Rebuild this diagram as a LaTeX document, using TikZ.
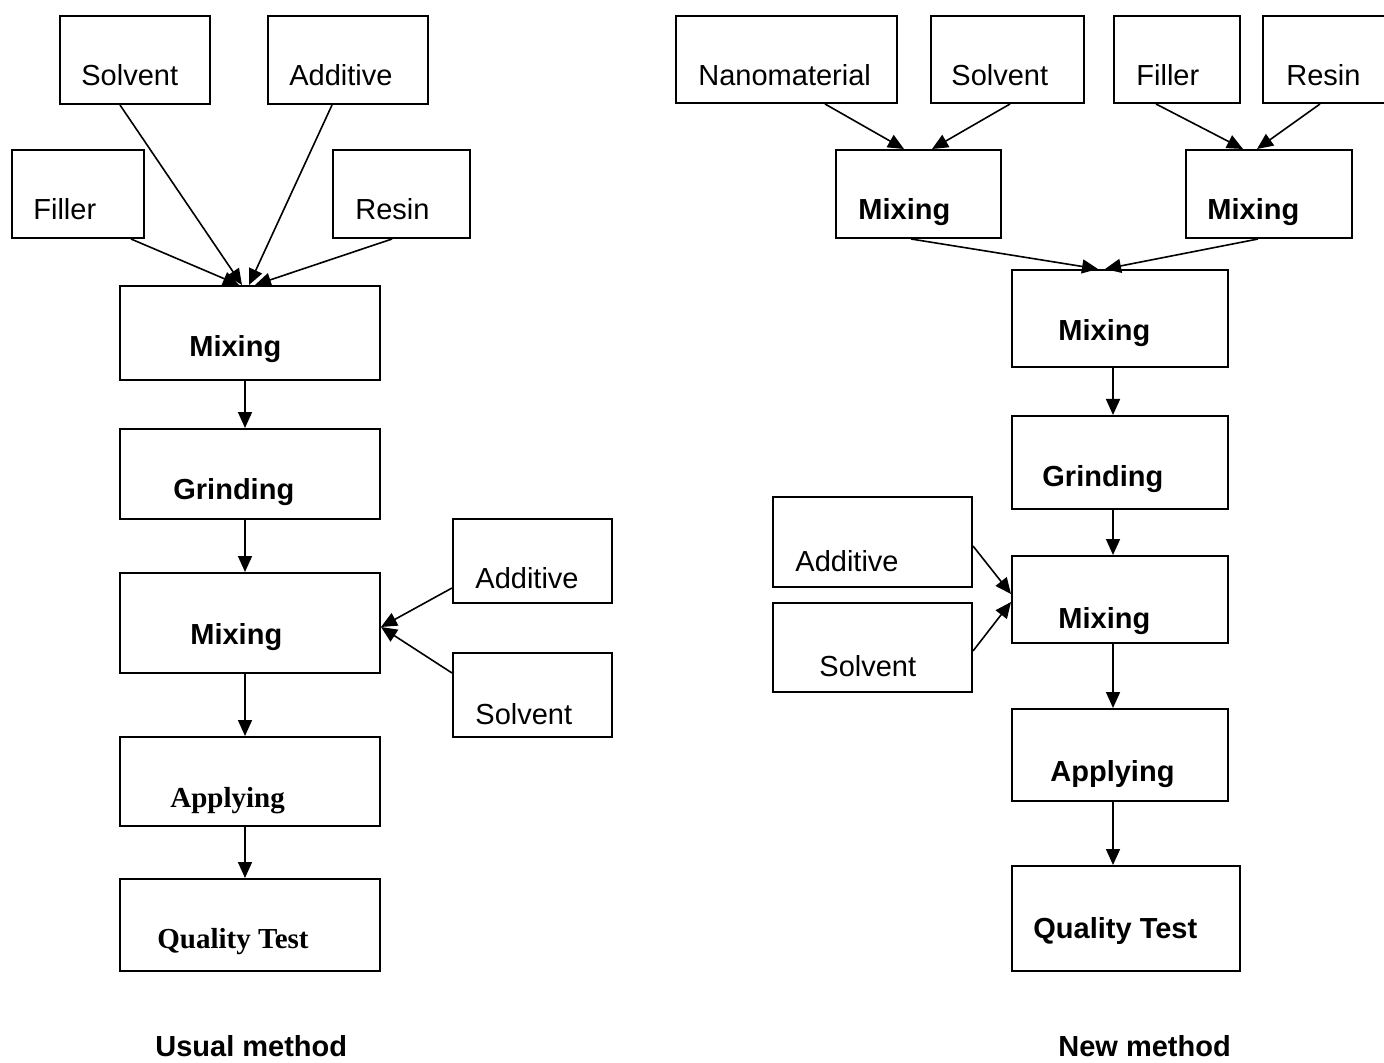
\documentclass[tikz,border=0pt]{standalone}
\usepackage{fontspec}
\setmainfont{Liberation Sans}
\newfontfamily\timesfont{Liberation Serif}
\usetikzlibrary{arrows.meta,calc,fit}

\begin{document}
\begin{tikzpicture}[x=0.5pt,y=0.5pt,yscale=-1,xscale=1,
  box/.style={draw, line width=1pt, inner sep=0pt, rectangle},
  txt/.style={anchor=base west, inner sep=0pt, font=\fontsize{14.5}{17}\selectfont},
  bld/.style={anchor=base west, inner sep=0pt, font=\fontsize{14.5}{17}\selectfont\bfseries},
  tms/.style={anchor=base west, inner sep=0pt, font=\fontsize{14.5}{17}\selectfont\timesfont\bfseries},
  flow/.style={line width=0.8pt, -{Triangle[length=8pt,width=7pt]}}]
\useasboundingbox (0,0) rectangle (1384,1063);

%Shapes: usual method
\node[box, fit={(60,16) (210,104)}] (lSolv) {};
\node[box, fit={(268,16) (428,104)}] (lAdd) {};
\node[box, fit={(12,150) (144,238)}] (lFill) {};
\node[box, fit={(333,150) (470,238)}] (lResin) {};
\node[box, fit={(120,286) (380,380)}] (lMixA) {};
\node[box, fit={(120,429) (380,519)}] (lGrind) {};
\node[box, fit={(120,573) (380,673)}] (lMixB) {};
\node[box, fit={(120,737) (380,826)}] (lApply) {};
\node[box, fit={(120,879) (380,971)}] (lTest) {};
\node[box, fit={(453,519) (612,603)}] (lAddB) {};
\node[box, fit={(453,653) (612,737)}] (lSolvB) {};

%Shapes: new method
\node[box, fit={(676,16) (897,103)}] (rNano) {};
\node[box, fit={(931,16) (1084,103)}] (rSolv) {};
\node[box, fit={(1114,16) (1240,103)}] (rFill) {};
\node[box, fit={(1263,16) (1400,103)}] (rResin) {};
\node[box, fit={(836,150) (1001,238)}] (rMixA) {};
\node[box, fit={(1186,150) (1352,238)}] (rMixB) {};
\node[box, fit={(1012,270) (1228,367)}] (rMixC) {};
\node[box, fit={(1012,416) (1228,509)}] (rGrind) {};
\node[box, fit={(1012,556) (1228,643)}] (rMixD) {};
\node[box, fit={(1012,709) (1228,801)}] (rApply) {};
\node[box, fit={(1012,866) (1240,971)}] (rTest) {};
\node[box, fit={(773,497) (972,587)}] (rAdd) {};
\node[box, fit={(773,603) (972,692)}] (rSolvB) {};

%Connectors: usual method
\draw[flow] ($(lSolv.south west)+(61,0)$) -- ($(lMixA.north west)+(123,0)$);
\draw[flow] ($(lAdd.south west)+(65,0)$) -- ($(lMixA.north west)+(130,0)$);
\draw[flow] ($(lFill.south west)+(120,0)$) -- ($(lMixA.north west)+(120,0)$);
\draw[flow] ($(lResin.south west)+(60,0)$) -- ($(lMixA.north west)+(136,0)$);
\draw[flow] ($(lMixA.south west)+(126,0)$) -- ($(lGrind.north west)+(126,0)$);
\draw[flow] ($(lGrind.south west)+(126,0)$) -- ($(lMixB.north west)+(126,0)$);
\draw[flow] ($(lMixB.south west)+(126,0)$) -- ($(lApply.north west)+(126,0)$);
\draw[flow] ($(lApply.south west)+(126,0)$) -- ($(lTest.north west)+(126,0)$);
\draw[flow] ($(lAddB.west)+(0,27)$) -- ($(lMixB.east)+(0,4)$);
\draw[flow] ($(lSolvB.west)+(0,-22)$) -- ($(lMixB.east)+(0,4)$);

%Connectors: new method
\draw[flow] ($(rNano.south west)+(150,0)$) -- ($(rMixA.north west)+(69,0)$);
\draw[flow] ($(rSolv.south west)+(80,0)$) -- ($(rMixA.north west)+(97,0)$);
\draw[flow] ($(rFill.south west)+(43,0)$) -- ($(rMixB.north west)+(58,0)$);
\draw[flow] ($(rResin.south west)+(58,0)$) -- ($(rMixB.north west)+(72,0)$);
\draw[flow] ($(rMixA.south west)+(76,0)$) -- ($(rMixC.north west)+(87,0)$);
\draw[flow] ($(rMixB.south west)+(73,0)$) -- ($(rMixC.north west)+(94,0)$);
\draw[flow] ($(rMixC.south west)+(102,0)$) -- ($(rGrind.north west)+(102,0)$);
\draw[flow] ($(rGrind.south west)+(102,0)$) -- ($(rMixD.north west)+(102,0)$);
\draw[flow] ($(rMixD.south west)+(102,0)$) -- ($(rApply.north west)+(102,0)$);
\draw[flow] ($(rApply.south west)+(102,0)$) -- ($(rTest.north west)+(102,0)$);
\draw[flow] ($(rAdd.south east)+(0,-42)$) -- ($(rMixD.north west)+(0,39)$);
\draw[flow] ($(rSolvB.north east)+(0,49)$) -- ($(rMixD.north west)+(0,47)$);

% Text Nodes: usual method
\node[txt] (tlSolv) at (81,86) {Solvent};
\node[txt] (tlAdd) at (289,86) {Additive};
\node[txt] (tlFill) at (33,220) {Filler};
\node[txt] (tlResin) at (355,220) {Resin};
\node[bld] (tlMixA) at (189,357) {Mixing};
\node[bld] (tlGrind) at (173,499) {Grinding};
\node[bld] (tlMixB) at (190,644) {Mixing};
\node[tms] (tlApply) at (170,807) {Applying};
\node[tms] (tlTest) at (157,948) {Quality Test};
\node[txt] (tlAddB) at (475,588) {Additive};
\node[txt] (tlSolvB) at (475,724) {Solvent};

% Text Nodes: new method
\node[txt] (trNano) at (698,86) {Nanomaterial};
\node[txt] (trSolv) at (951,86) {Solvent};
\node[txt] (trFill) at (1136,86) {Filler};
\node[txt] (trResin) at (1286,86) {Resin};
\node[bld] (trMixA) at (858,220) {Mixing};
\node[bld] (trMixB) at (1207,220) {Mixing};
\node[bld] (trMixC) at (1058,341) {Mixing};
\node[bld] (trGrind) at (1042,486) {Grinding};
\node[bld] (trMixD) at (1058,628) {Mixing};
\node[bld] (trApply) at (1050,781) {Applying};
\node[bld] (trTest) at (1033,938) {Quality Test};
\node[txt] (trAdd) at (795,571) {Additive};
\node[txt] (trSolvB) at (819,676) {Solvent};

% Captions
\node[bld] (capUsual) at (155,1056) {Usual method};
\node[bld] (capNew) at (1058,1056) {New method};

\end{tikzpicture}
\end{document}
